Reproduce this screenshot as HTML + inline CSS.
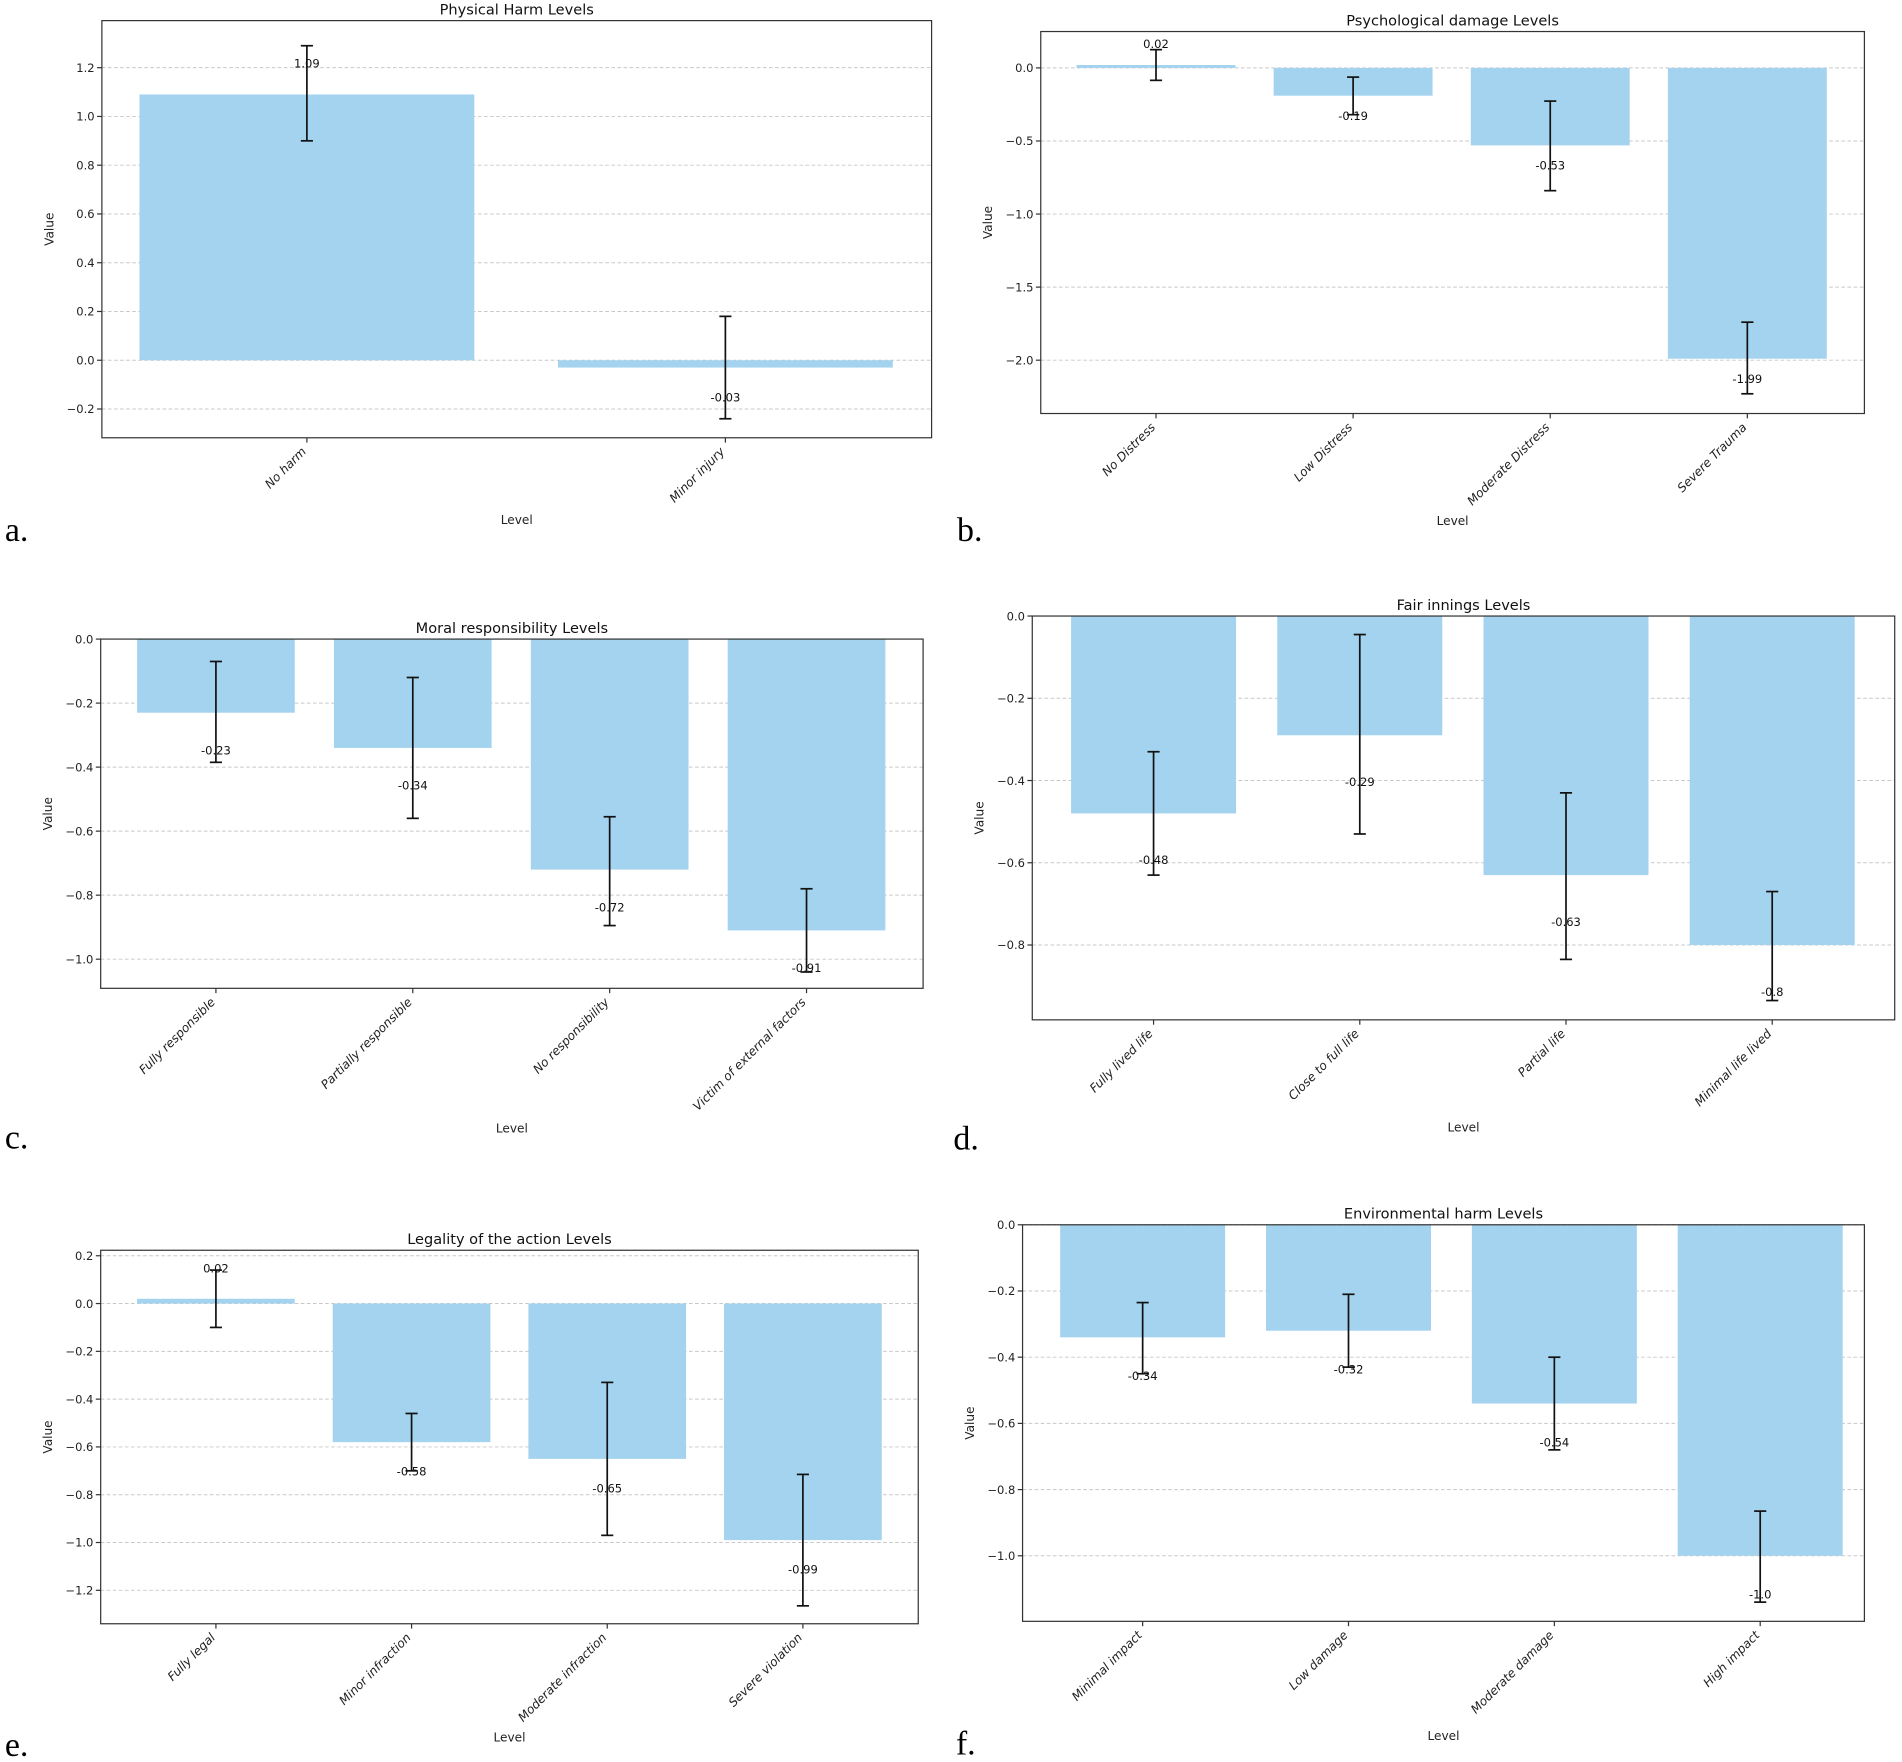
<!DOCTYPE html>
<html><head><meta charset="utf-8"><style>
html,body{margin:0;padding:0;background:#fff;}
svg{display:block;font-family:"DejaVu Sans","Liberation Sans",sans-serif;}
</style></head>
<body>
<svg id="fig" width="1902" height="1762" viewBox="0 0 1568 1453" preserveAspectRatio="none" xmlns="http://www.w3.org/2000/svg"></svg>
<script>
// Panel a
const aCategories = ["No harm", "Minor injury"];
const aValues = [1.09, -0.03];
const aErrLow = [0.90, -0.24];
const aErrHigh = [1.29, 0.18];
const aTicks = [-0.2, 0.0, 0.2, 0.4, 0.6, 0.8, 1.0, 1.2];
// Panel b
const bCategories = ["No Distress", "Low Distress", "Moderate Distress", "Severe Trauma"];
const bValues = [0.02, -0.19, -0.53, -1.99];
const bErrLow = [-0.085, -0.32, -0.84, -2.23];
const bErrHigh = [0.125, -0.063, -0.227, -1.74];
const bTicks = [-2.0, -1.5, -1.0, -0.5, 0.0];
// Panel c
const cCategories = ["Fully responsible", "Partially responsible", "No responsibility", "Victim of external factors"];
const cValues = [-0.23, -0.34, -0.72, -0.91];
const cErrLow = [-0.385, -0.56, -0.895, -1.04];
const cErrHigh = [-0.07, -0.12, -0.555, -0.78];
const cTicks = [-1.0, -0.8, -0.6, -0.4, -0.2, 0.0];
// Panel d
const dCategories = ["Fully lived life", "Close to full life", "Partial life", "Minimal life lived"];
const dValues = [-0.48, -0.29, -0.63, -0.8];
const dErrLow = [-0.63, -0.53, -0.835, -0.935];
const dErrHigh = [-0.33, -0.045, -0.43, -0.67];
const dTicks = [-0.8, -0.6, -0.4, -0.2, 0.0];
// Panel e
const eCategories = ["Fully legal", "Minor infraction", "Moderate infraction", "Severe violation"];
const eValues = [0.02, -0.58, -0.65, -0.99];
const eErrLow = [-0.10, -0.70, -0.97, -1.265];
const eErrHigh = [0.14, -0.46, -0.33, -0.715];
const eTicks = [-1.2, -1.0, -0.8, -0.6, -0.4, -0.2, 0.0, 0.2];
// Panel f
const fCategories = ["Minimal impact", "Low damage", "Moderate damage", "High impact"];
const fValues = [-0.34, -0.32, -0.54, -1.0];
const fErrLow = [-0.45, -0.43, -0.68, -1.14];
const fErrHigh = [-0.235, -0.21, -0.40, -0.865];
const fTicks = [-1.0, -0.8, -0.6, -0.4, -0.2, 0.0];

const NS = "http://www.w3.org/2000/svg";
const svg = document.getElementById("fig");
function mk(tag, attrs, parent, text) {
  const e = document.createElementNS(NS, tag);
  for (const k in attrs) e.setAttribute(k, attrs[k]);
  if (text !== undefined) e.textContent = text;
  parent.appendChild(e);
  return e;
}
function fmt(v) {
  let s = v.toFixed(1);
  if (Math.abs(v) < 1e-9) s = "0.0";
  return s.replace("-", "\u2212");
}
function valStr(v) {
  return Number.isInteger(v) ? v.toFixed(1) : String(v);
}

function panel(id, cfg, cats, vals, lo, hi, ticks) {
  const g = mk("g", {}, svg);
  
  
  const {x0, x1, y0, y1, vTop, vBot, barW, first, step} = cfg;
  const ys = v => y0 + (vTop - v) / (vTop - vBot) * (y1 - y0);
  const xs = i => first + i * step;
  ticks.forEach(t => {
    const gl = mk("line", {x1: x0, x2: x1, y1: ys(t), y2: ys(t), stroke: "#c8c8c8", "stroke-width": 0.8, "stroke-dasharray": "3,2"}, g);
    
    
  });
  cats.forEach((c, i) => {
    const v = vals[i];
    const top = Math.min(ys(v), ys(0)), h = Math.abs(ys(v) - ys(0));
    const r = mk("rect", {x: xs(i) - barW / 2, y: top, width: barW, height: Math.max(h, 0.5), fill: "#a3d3ef"}, g);
    
    
  });
  cats.forEach((c, i) => {
    const x = xs(i);
    const eg = mk("g", {stroke: "#111", "stroke-width": 1.4}, g);
    
    
    mk("line", {x1: x, x2: x, y1: ys(lo[i]), y2: ys(hi[i])}, eg);
    mk("line", {x1: x - 5, x2: x + 5, y1: ys(lo[i]), y2: ys(lo[i])}, eg);
    mk("line", {x1: x - 5, x2: x + 5, y1: ys(hi[i]), y2: ys(hi[i])}, eg);
  });
  cats.forEach((c, i) => {
    const v = vals[i];
    const ly = v >= 0 ? ys(v + 0.1) - 2 : ys(v - 0.1) + 8;
    const t = mk("text", {x: xs(i), y: ly, "text-anchor": "middle", "font-size": 9.5, fill: "#111"}, g, valStr(v));
    
    
  });
  const fr = mk("rect", {x: x0, y: y0, width: x1 - x0, height: y1 - y0, fill: "none", stroke: "#333", "stroke-width": 1}, g);
  
  
  ticks.forEach(t => {
    mk("line", {x1: x0 - 4, x2: x0, y1: ys(t), y2: ys(t), stroke: "#333"}, g);
    const tl = mk("text", {x: x0 - 6, y: ys(t) + 3.5, "text-anchor": "end", "font-size": 9.5, fill: "#222"}, g, fmt(t));
    
    
  });
  cats.forEach((c, i) => {
    const x = xs(i);
    mk("line", {x1: x, x2: x, y1: y1, y2: y1 + 4, stroke: "#333"}, g);
    const tl = mk("text", {x: x, y: y1 + 12, "text-anchor": "end", "font-size": 10, "font-style": "italic", fill: "#222", transform: `rotate(-45 ${x} ${y1 + 12})`}, g, c);
    
    
  });
  const ti = mk("text", {x: (x0 + x1) / 2, y: y0 - 5, "text-anchor": "middle", "font-size": 12, fill: "#111"}, g, cfg.title);
  
  
  const xl = mk("text", {x: (x0 + x1) / 2, y: cfg.levelY, "text-anchor": "middle", "font-size": 10, fill: "#222"}, g, "Level");
  
  
  const yx = x0 - 40, yy = (y0 + y1) / 2;
  const yl = mk("text", {x: yx, y: yy, "text-anchor": "middle", "font-size": 10, fill: "#222", transform: `rotate(-90 ${yx} ${yy})`}, g, "Value");
  
  
  const pl = mk("text", {x: cfg.lx, y: cfg.ly, "font-size": 28, "font-family": "Liberation Serif, serif", fill: "#000"}, g, id + ".");
  
  
}

panel("a", {x0: 84, x1: 768, y0: 17, y1: 361, vTop: 1.393, vBot: -0.318, barW: 276, first: 253, step: 345, title: "Physical Harm Levels", levelY: 432, lx: 4, ly: 446}, aCategories, aValues, aErrLow, aErrHigh, aTicks);
panel("b", {x0: 858, x1: 1537, y0: 26, y1: 341, vTop: 0.249, vBot: -2.365, barW: 131, first: 953, step: 162.5, title: "Psychological damage Levels", levelY: 433, lx: 789, ly: 446}, bCategories, bValues, bErrLow, bErrHigh, bTicks);
panel("c", {x0: 83, x1: 761, y0: 527, y1: 815, vTop: 0.0, vBot: -1.091, barW: 130, first: 178, step: 162.3, title: "Moral responsibility Levels", levelY: 934, lx: 4, ly: 947}, cCategories, cValues, cErrLow, cErrHigh, cTicks);
panel("d", {x0: 851, x1: 1562, y0: 508, y1: 841, vTop: 0.0, vBot: -0.982, barW: 136, first: 951, step: 170, title: "Fair innings Levels", levelY: 933, lx: 786, ly: 948}, dCategories, dValues, dErrLow, dErrHigh, dTicks);
panel("e", {x0: 83, x1: 757, y0: 1031, y1: 1339, vTop: 0.223, vBot: -1.340, barW: 130, first: 178, step: 161.3, title: "Legality of the action Levels", levelY: 1436, lx: 4, ly: 1448}, eCategories, eValues, eErrLow, eErrHigh, eTicks);
panel("f", {x0: 843, x1: 1537, y0: 1010, y1: 1337, vTop: 0.0, vBot: -1.198, barW: 136, first: 942, step: 169.7, title: "Environmental harm Levels", levelY: 1435, lx: 788, ly: 1447}, fCategories, fValues, fErrLow, fErrHigh, fTicks);
</script>
</body></html>
